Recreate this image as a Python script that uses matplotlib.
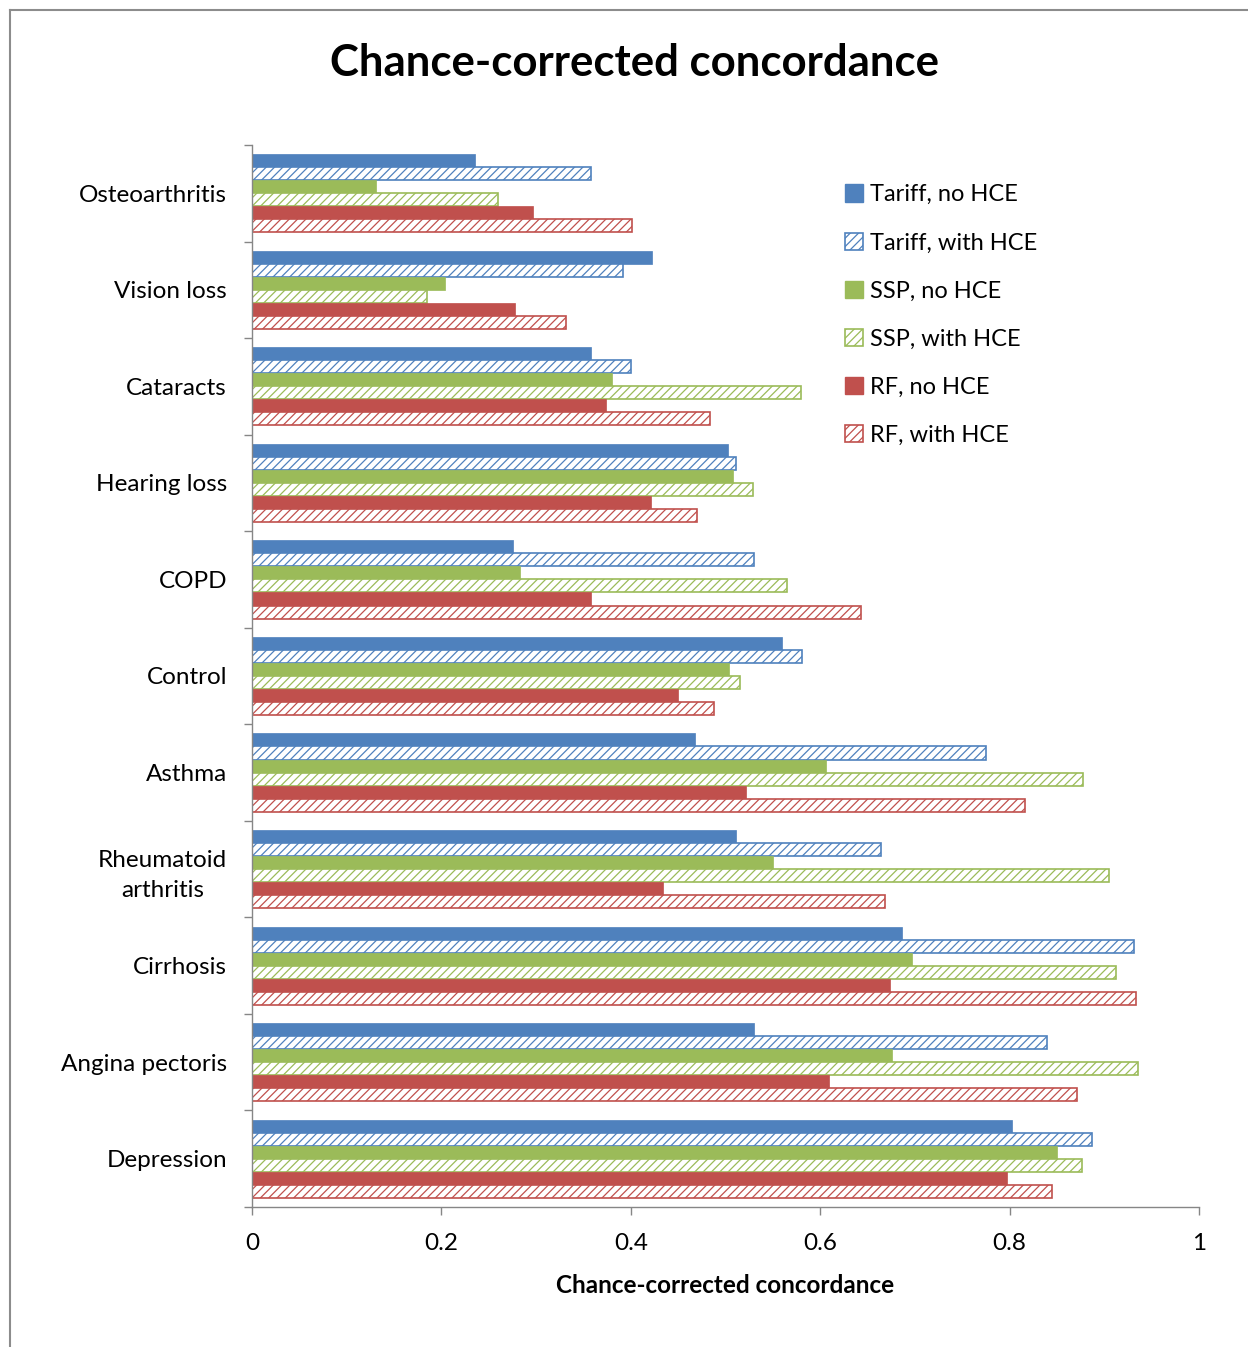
import matplotlib
matplotlib.use("Agg")
import matplotlib.pyplot as plt
import numpy as np
from matplotlib.lines import Line2D
from matplotlib.patches import Patch

categories = ["Osteoarthritis", "Vision loss", "Cataracts", "Hearing loss", "COPD",
              "Control", "Asthma", "Rheumatoid\narthritis", "Cirrhosis",
              "Angina pectoris", "Depression"]

tariff_no   = [0.236, 0.422, 0.358, 0.503, 0.276, 0.560, 0.468, 0.511, 0.686, 0.530, 0.803]
tariff_with = [0.358, 0.392, 0.400, 0.511, 0.530, 0.581, 0.775, 0.664, 0.931, 0.839, 0.887]
ssp_no      = [0.131, 0.204, 0.380, 0.508, 0.283, 0.504, 0.606, 0.550, 0.697, 0.676, 0.850]
ssp_with    = [0.260, 0.185, 0.580, 0.529, 0.565, 0.515, 0.877, 0.905, 0.912, 0.936, 0.876]
rf_no       = [0.297, 0.278, 0.374, 0.421, 0.358, 0.450, 0.522, 0.434, 0.674, 0.609, 0.797]
rf_with     = [0.401, 0.332, 0.484, 0.470, 0.643, 0.488, 0.816, 0.668, 0.933, 0.871, 0.845]

series_names = ["Tariff, no HCE", "Tariff, with HCE", "SSP, no HCE",
                "SSP, with HCE", "RF, no HCE", "RF, with HCE"]
series_vals = [tariff_no, tariff_with, ssp_no, ssp_with, rf_no, rf_with]

xticks = [0, 0.2, 0.4, 0.6, 0.8, 1.0]
xtick_labels = ["0", "0.2", "0.4", "0.6", "0.8", "1"]

blue, green, red = "#4F81BD", "#9BBB59", "#C0504D"
colors = [blue, blue, green, green, red, red]
hatched = [False, True, False, True, False, True]

plt.rcParams['font.family'] = ['Lato', 'DejaVu Sans']
plt.rcParams['hatch.linewidth'] = 0.9

fig = plt.figure(figsize=(12.48, 13.47), dpi=100)
ax = fig.add_axes([252/1248, 1 - 1207/1347, (1199-252)/1248, (1207-145)/1347])

n = len(categories)
y = np.arange(n)
h = 0.81 / 6
for j, (vals, c, hat) in enumerate(zip(series_vals, colors, hatched)):
    pos = y + (j - 2.5) * h
    if hat:
        ax.barh(pos, vals, height=h, facecolor="white", edgecolor=c,
                hatch="////", linewidth=1.2, label=series_names[j])
    else:
        ax.barh(pos, vals, height=h, color=c, edgecolor=c, linewidth=0.5,
                label=series_names[j])

ax.set_ylim(n - 0.5, -0.5)
ax.set_xlim(0, 1)
ax.set_yticks(y)
ax.set_yticklabels(categories, fontsize=17.5, multialignment="center", linespacing=1.55)
ax.set_yticks(np.arange(-0.5, n, 1), minor=True)
ax.tick_params(axis="y", which="major", length=0, pad=18)
ax.tick_params(axis="y", which="minor", length=6, color="#868686", width=1)
ax.set_xticks(xticks)
ax.set_xticklabels(xtick_labels, fontsize=17.5)
ax.tick_params(axis="x", length=6, color="#868686", width=1, pad=13)

for s in ["top", "right"]:
    ax.spines[s].set_visible(False)
for s in ["left", "bottom"]:
    ax.spines[s].set_color("#868686")
    ax.spines[s].set_linewidth(1)

ax.set_xlabel("Chance-corrected concordance", fontsize=17.5, fontweight="bold", labelpad=14)

fig.text(634/1248, 1 - 63/1347, "Chance-corrected concordance", fontsize=31.5,
         fontweight="bold", ha="center", va="center")

handles = []
for j in range(6):
    if hatched[j]:
        handles.append(Patch(facecolor="white", edgecolor=colors[j], hatch="////", linewidth=1.2))
    else:
        handles.append(Patch(facecolor=colors[j], edgecolor=colors[j]))
leg = fig.legend(handles, series_names, loc="upper left",
                 bbox_to_anchor=(824/1248, 1 - 163/1347), frameon=False,
                 fontsize=17, handlelength=0.75, handleheight=0.75,
                 handletextpad=0.3, labelspacing=1.15)

# outer border
fig.add_artist(Line2D([10/1248, 10/1248], [0, 1 - 10/1347], color="#8c8c8c", lw=1.5,
                      transform=fig.transFigure))
fig.add_artist(Line2D([10/1248, 1], [1 - 10/1347, 1 - 10/1347], color="#8c8c8c", lw=1.5,
                      transform=fig.transFigure))

fig.savefig("out.png", dpi=100)
